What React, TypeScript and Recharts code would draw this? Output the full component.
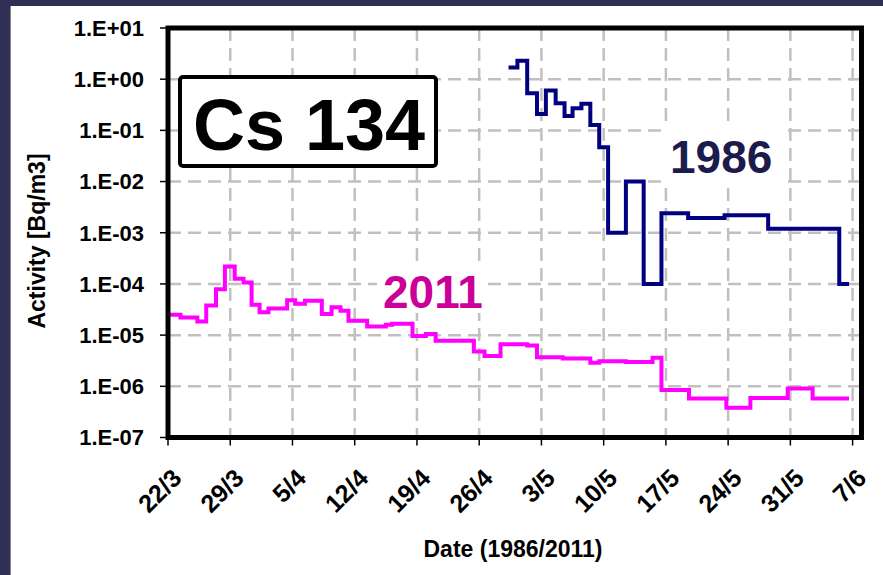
import { LineChart, Line, XAxis, YAxis, CartesianGrid } from 'recharts'

const FONT = '"Liberation Sans", Arial, sans-serif'

const dayTicks = [0, 7, 14, 21, 28, 35, 42, 49, 56, 63, 70, 77]
const dayLabels = ['22/3', '29/3', '5/4', '12/4', '19/4', '26/4', '3/5', '10/5', '17/5', '24/5', '31/5', '7/6']
const activityTicks = [1e-7, 1e-6, 1e-5, 1e-4, 1e-3, 1e-2, 1e-1, 1, 10]

// days after 22/3 where each step starts; the last entry closes the final step
const days2011 = [0, 1.4, 3.3, 4.3, 5.4, 6.4, 7.5, 8.5, 9.4, 10.3, 11.3, 13.4, 14.3, 15.4, 17.3, 18.4, 19.4, 20.3, 22.4, 24.5, 25.2, 27.5, 29.0, 30.1, 34.4, 35.6, 37.4, 40.4, 41.5, 44.4, 47.5, 48.5, 51.5, 54.5, 55.5, 58.6, 62.8, 65.5, 69.7, 72.5, 76.6]
const cs2011 = [2.5e-5, 2.2e-5, 1.85e-5, 3.8e-5, 7.9e-5, 2.2e-4, 1.26e-4, 1.07e-4, 3.9e-5, 2.8e-5, 3.3e-5, 4.8e-5, 4.1e-5, 4.7e-5, 2.6e-5, 3.5e-5, 3.0e-5, 1.9e-5, 1.47e-5, 1.6e-5, 1.67e-5, 9.6e-6, 1.05e-5, 7.8e-6, 4.8e-6, 3.9e-6, 6.6e-6, 6.3e-6, 3.7e-6, 3.5e-6, 2.9e-6, 3.1e-6, 3.0e-6, 3.6e-6, 8.5e-7, 5.8e-7, 3.8e-7, 5.9e-7, 9.1e-7, 5.8e-7, 5.8e-7]

const days1986 = [38.3, 39.3, 40.4, 41.5, 42.5, 43.6, 44.6, 45.5, 46.5, 47.5, 48.5, 49.5, 51.5, 53.5, 55.5, 58.5, 62.6, 67.5, 75.5, 76.6]
const cs1986 = [1.7, 2.3, 0.53, 0.21, 0.6, 0.34, 0.19, 0.27, 0.33, 0.128, 0.047, 1e-3, 1e-2, 1e-4, 2.4e-3, 1.95e-3, 2.2e-3, 1.2e-3, 1e-4, 1e-4]

const data2011 = days2011.map((t, i) => ({ t, v: cs2011[i] }))
const data1986 = days1986.map((t, i) => ({ t, v: cs1986[i] }))

const sci = (v: number) => {
  const e = Math.round(Math.log10(v))
  return `1.E${e >= 0 ? '+' : '-'}${String(Math.abs(e)).padStart(2, '0')}`
}

function DateTick(props: any) {
  const { x, y, payload } = props
  const label = dayLabels[dayTicks.indexOf(payload.value)]
  return (
    <text x={0} y={0} dy="0.35em" textAnchor="end" transform={`translate(${x + 9},${y + 26}) rotate(-45)`}
      fontFamily={FONT} fontSize={25} fontWeight="bold" fill="#000">{label}</text>
  )
}

export default function App() {
  return (
    <div style={{ position: 'absolute', left: 0, top: 0, width: 883, height: 575, background: '#fff', overflow: 'hidden' }}>
      <div style={{ position: 'absolute', left: 0, top: 0, width: 10, height: 575, background: '#2f2e54', borderRight: '1px solid #888' }} />
      <div style={{ position: 'absolute', left: 0, top: 0, width: 883, height: 6, background: '#2f2e54' }} />
      <div style={{ position: 'absolute', left: 0, top: 0 }}>
        <LineChart width={883} height={575} margin={{ top: 28, right: 21.5, bottom: 57.5, left: 0 }}>
          <CartesianGrid stroke="#c0c0c0" strokeWidth={2.5} strokeDasharray="13 7" />
          <XAxis dataKey="t" type="number" domain={[0, 78]} ticks={dayTicks} interval={0} height={80}
            axisLine={false} tickLine={{ stroke: '#000', strokeWidth: 1.5 }} tickSize={8} tickMargin={2}
            tick={<DateTick />} allowDataOverflow />
          <YAxis dataKey="v" type="number" scale="log" domain={[1e-7, 10]} ticks={activityTicks} interval={0}
            width={168} axisLine={false} tickLine={{ stroke: '#000', strokeWidth: 1.5 }} tickSize={8} tickMargin={16}
            tickFormatter={sci} tick={{ fontFamily: FONT, fontSize: 22, fontWeight: 'bold', fill: '#000' }} allowDataOverflow />
          <Line data={data2011} dataKey="v" type="stepAfter" stroke="#ff00ff" strokeWidth={4} dot={false} isAnimationActive={false} />
          <Line data={data1986} dataKey="v" type="stepAfter" stroke="#000080" strokeWidth={4} dot={false} isAnimationActive={false} />
        </LineChart>
      </div>
      <svg width={883} height={575} style={{ position: 'absolute', left: 0, top: 0, pointerEvents: 'none' }}>
        <rect x={168} y={28} width={693.5} height={409.5} fill="none" stroke="#000" strokeWidth={5} />
        <rect x={180} y={77} width={256} height={89} rx={3} fill="#fff" stroke="#000" strokeWidth={4} />
        <text x={309} y={150} textAnchor="middle" fontFamily={FONT} fontSize={72} fontWeight="bold" fill="#000">Cs 134</text>
        <rect x={662} y={126} width={120} height={58} fill="#fff" />
        <text x={670} y={173} fontFamily={FONT} fontSize={46} fontWeight="bold" fill="#1c1c4c">1986</text>
        <rect x={377} y={265} width={108} height={48} fill="#fff" />
        <text x={383} y={308} fontFamily={FONT} fontSize={46} fontWeight="bold" fill="#cc0099">2011</text>
        <text x={513} y={557} textAnchor="middle" fontFamily={FONT} fontSize={23} fontWeight="bold" fill="#000">Date (1986/2011)</text>
        <text transform="translate(45,241) rotate(-90)" textAnchor="middle" fontFamily={FONT} fontSize={23} fontWeight="bold" fill="#000">Activity [Bq/m3]</text>
      </svg>
    </div>
  )
}
